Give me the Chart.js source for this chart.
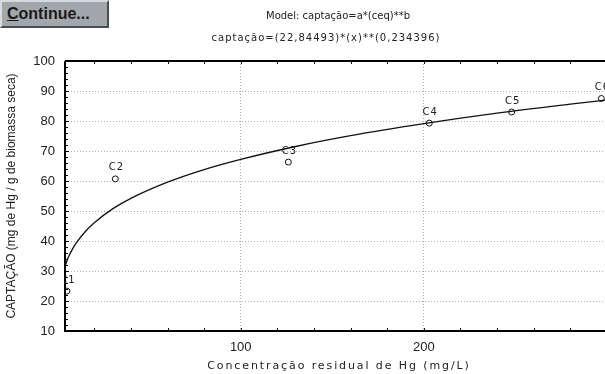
<!DOCTYPE html>
<html>
<head>
<meta charset="utf-8">
<script src="https://cdn.jsdelivr.net/npm/chart.js"></script>
<style>
    html, body { margin: 0; padding: 0; background: #fff; }
    #wrap { position: relative; width: 605px; height: 374px; }
    #btn {
        position: absolute; left: 0; top: 0; width: 100px; height: 24px;
        background: #a2a7ac; border: 2px solid; border-color: #d8dbde #4a4e52 #4a4e52 #d8dbde;
        font: bold 16px "Liberation Sans", Arial, sans-serif; color: #1a1a1a;
        line-height: 24px; padding-left: 5px; box-sizing: content-box;
    }
</style>
</head>
<body>
<div id="wrap">
    <canvas id="chart" width="605" height="374"></canvas>
    <div id="btn"><u>C</u>ontinue...</div>
</div>
<script>
// measured points (ceq, captação)
const pointLabels = ['C1', 'C2', 'C3', 'C4', 'C5', 'C6'];
const pointX = [5, 31.5, 126, 203, 248, 297];
const pointY = [23.3, 60.7, 66.3, 79.3, 83, 87.5];

// fitted curve
const curveX = [4, 6, 8, 10, 15, 20, 30, 40, 60, 80, 100, 130, 160, 200, 240, 280, 300];
const curveY = [31.6, 34.8, 37.2, 39.2, 43.1, 46.1, 50.7, 54.2, 59.6, 63.8, 67.2, 71.5, 75.1, 79.1, 82.6, 85.6, 87.0];

const xTicks = [100, 200];
const yTicks = [10, 20, 30, 40, 50, 60, 70, 80, 90, 100];

const titleLines = ['Model: captação=a*(ceq)**b', 'captação=(22,84493)*(x)**(0,234396)'];
const xTitle = 'Concentração residual de Hg (mg/L)';

// frame, inward ticks, point labels and titles
const framePlugin = {
    id: 'frame',
    afterDraw(chart) {
        const ctx = chart.ctx;
        const a = chart.chartArea;
        const xs = chart.scales.x, ys = chart.scales.y;
        ctx.save();
        ctx.strokeStyle = '#000';
        ctx.lineWidth = 2;
        ctx.beginPath();
        ctx.moveTo(a.left, a.top);
        ctx.lineTo(a.left, a.bottom);
        ctx.lineTo(a.right, a.bottom);
        ctx.moveTo(a.left, a.top);
        ctx.lineTo(a.right, a.top);
        ctx.stroke();

        ctx.lineWidth = 1;
        ctx.beginPath();
        for (let v = 20; v < xs.max; v += 20) {
            const px = Math.round(xs.getPixelForValue(v)) + 0.5;
            ctx.moveTo(px, a.bottom); ctx.lineTo(px, a.bottom - 3);
            ctx.moveTo(px, a.top); ctx.lineTo(px, a.top + 3);
        }
        for (let v = 12; v < 100; v += 2) {
            const py = Math.round(ys.getPixelForValue(v)) + 0.5;
            const len = v % 10 === 0 ? 4 : 3;
            ctx.moveTo(a.left, py); ctx.lineTo(a.left + len, py);
        }
        ctx.stroke();

        // point labels (clipped like the points)
        ctx.beginPath();
        ctx.rect(a.left, a.top, a.right - a.left, a.bottom - a.top);
        ctx.clip();
        ctx.fillStyle = '#222';
        ctx.font = '10px "DejaVu Sans", sans-serif';
        ctx.letterSpacing = '1px';
        ctx.textAlign = 'center';
        ctx.textBaseline = 'bottom';
        pointLabels.forEach((lbl, i) => {
            const px = xs.getPixelForValue(pointX[i]);
            const py = ys.getPixelForValue(pointY[i]);
            ctx.fillText(lbl, px + 1, py - 6);
        });
        ctx.restore();

        ctx.save();
        ctx.fillStyle = '#222';
        ctx.font = '10px "DejaVu Sans", sans-serif';
        ctx.textAlign = 'center';
        ctx.textBaseline = 'middle';
        ctx.fillText(titleLines[0], 338, 16);
        ctx.letterSpacing = '1px';
        ctx.fillText(titleLines[1], 326, 38);
        ctx.font = '11px "DejaVu Sans", sans-serif';
        ctx.letterSpacing = '1.9px';
        ctx.fillText(xTitle, 339, 366);
        ctx.restore();
    }
};

const ctx = document.getElementById('chart').getContext('2d');
new Chart(ctx, {
    type: 'scatter',
    data: {
        datasets: [{
            label: 'curve',
            type: 'line',
            data: curveX.map((x, i) => ({ x: x, y: curveY[i] })),
            borderColor: '#111',
            borderWidth: 1.3,
            pointRadius: 0,
            cubicInterpolationMode: 'monotone',
            fill: false
        }, {
            label: 'data',
            data: pointX.map((x, i) => ({ x: x, y: pointY[i] })),
            pointRadius: 3,
            pointBorderWidth: 1,
            borderColor: '#111',
            backgroundColor: '#fff'
        }]
    },
    options: {
        responsive: false,
        animation: false,
        layout: { autoPadding: false, padding: { left: 4, right: 0, top: 61, bottom: 0 } },
        plugins: {
            legend: { display: false },
            tooltip: { enabled: false }
        },
        scales: {
            x: {
                type: 'linear',
                min: 4,
                max: 299,
                afterBuildTicks: s => { s.ticks = xTicks.map(v => ({ value: v })); },
                afterFit: s => { s.height = 43; s.paddingLeft = 0; s.paddingRight = 0; },
                border: { display: false, dash: [1, 2] },
                grid: { color: '#b0b0b0', drawTicks: false },
                ticks: {
                    color: '#222',
                    padding: 9,
                    maxRotation: 0,
                    font: { family: 'Liberation Sans', size: 13 }
                }
            },
            y: {
                min: 10,
                max: 100,
                afterBuildTicks: s => { s.ticks = yTicks.map(v => ({ value: v })); },
                afterFit: s => { s.width = 61; },
                border: { display: false, dash: [1, 2] },
                grid: {
                    color: c => (c.tick && (c.tick.value === 10 || c.tick.value === 100)) ? 'rgba(0,0,0,0)' : '#b0b0b0',
                    drawTicks: false
                },
                ticks: {
                    color: '#222',
                    padding: 10,
                    font: { family: 'Liberation Sans', size: 13 }
                },
                title: {
                    display: true,
                    text: 'CAPTAÇÃO (mg de Hg / g de biomassa seca)',
                    color: '#222',
                    padding: { top: 0, bottom: 1 },
                    font: { family: 'Liberation Sans', size: 12 }
                }
            }
        }
    },
    plugins: [framePlugin]
});
</script>
</body>
</html>
